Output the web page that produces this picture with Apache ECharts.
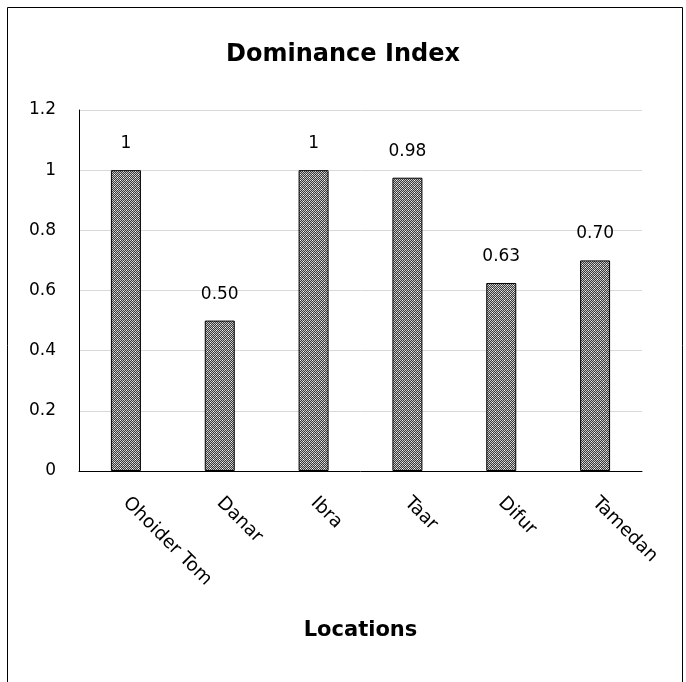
<!DOCTYPE html>
<html><head><meta charset="utf-8">
<script src="https://cdn.jsdelivr.net/npm/echarts@6/dist/echarts.min.js"></script>
<style>html,body{margin:0;padding:0;background:#fff}#c{width:686px;height:682px}</style>
</head><body><div id="c"></div>
<script>
var categories = ["Ohoider Tom", "Danar", "Ibra", "Taar", "Difur", "Tamedan"];
var values = [1, 0.50, 1, 0.975, 0.625, 0.70];
var valueLabels = ["1", "0.50", "1", "0.98", "0.63", "0.70"];
var yTicks = [0, 0.2, 0.4, 0.6, 0.8, 1, 1.2];

var pc = document.createElement('canvas');
pc.width = 6; pc.height = 6;
var g = pc.getContext('2d');
g.fillStyle = '#3a3a3a'; g.fillRect(0,0,6,6);
g.fillStyle = '#c4c4c4';
for (var y=0;y<6;y++) for (var x=0;x<6;x++) if ((x+y)%2===0) g.fillRect(x,y,1,1);
g.fillStyle = '#ffffff';
g.fillRect(0,0,1,1); g.fillRect(3,3,1,1);

var chart = echarts.init(document.getElementById('c'));
chart.setOption({
  animation: false,
  backgroundColor: '#fff',
  title: {text: 'Dominance Index', left: 'center', top: 38,
    textStyle: {fontFamily: 'DejaVu Sans', fontSize: 24, fontWeight: 'bold', color: '#000'}},
  grid: {left: 79, right: 44, top: 110, bottom: 211},
  xAxis: {type: 'category', data: categories,
    axisLine: {lineStyle: {color: '#000', width: 1}},
    axisTick: {show: false},
    axisLabel: {rotate: -45, margin: 29, fontFamily: 'DejaVu Sans', fontSize: 18.5, color: '#000'},
    name: 'Locations', nameLocation: 'middle', nameGap: 149,
    nameTextStyle: {fontFamily: 'DejaVu Sans', fontSize: 21, fontWeight: 'bold', color: '#000'}},
  yAxis: {type: 'value', min: 0, max: 1.2, interval: 0.2,
    axisLine: {show: true, lineStyle: {color: '#000', width: 1}},
    axisTick: {show: false},
    axisLabel: {margin: 23, fontFamily: 'DejaVu Sans', fontSize: 17, color: '#000',
      formatter: function(v){ var r = yTicks.filter(function(t){return Math.abs(t-v)<1e-9;}); return r.length? String(r[0]) : ''; }},
    splitLine: {lineStyle: {color: '#d9d9d9', width: 1}}},
  series: [{type: 'bar', data: values, barWidth: 30,
    itemStyle: {color: {image: pc, repeat: 'repeat'}, borderColor: '#000', borderWidth: 1},
    label: {show: true, position: 'top', distance: 18, fontFamily: 'DejaVu Sans', fontSize: 17, color: '#000',
      formatter: function(p){ return valueLabels[p.dataIndex]; }}}],
  graphic: [{type: 'rect', shape: {x: 7.5, y: 7.5, width: 675, height: 700}, style: {fill: 'none', stroke: '#000', lineWidth: 1}}]
});
</script></body></html>
